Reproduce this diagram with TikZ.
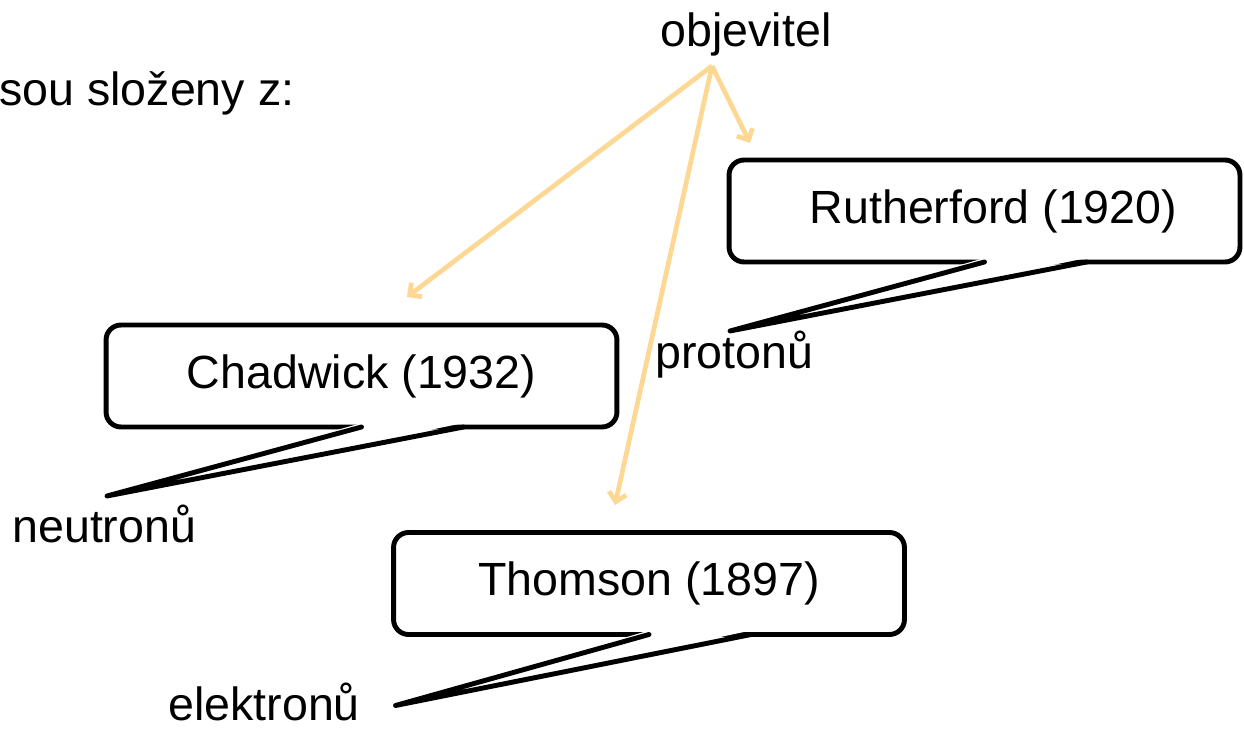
\documentclass[tikz,border=0pt]{standalone}
\usepackage{fontspec}
\setmainfont{Liberation Sans}
\usetikzlibrary{arrows.meta,calc}

\definecolor{objarrow}{RGB}{253,216,148}
\tikzset{
  txt/.style={font=\fontsize{26.5}{32}\selectfont, inner sep=0pt},
  bubble/.style={txt, draw, fill=white, line width=2.8pt, rounded corners=0.3cm,
    minimum width=10.22cm, minimum height=2.04cm, outer sep=0pt},
  tail/.style={line width=2.8pt, line join=round, line cap=round},
  find/.style={objarrow, line width=2.7pt, -{Straight Barb[length=5pt,width=10pt]}}
}

\begin{document}
\begin{tikzpicture}[x=0.02cm, y=-0.02cm]
\useasboundingbox (0,0) rectangle (1244,729);
% texts at the top
\node[txt, anchor=base west] (intro) at (-1,106) {sou složeny z:};
\node[txt, anchor=base] (obj) at (746,47) {objevitel};
% the three bubbles
\node[bubble] (ruth) at (984.5,211) {\hspace*{0.36cm}Rutherford (1920)};
\node[bubble] (chad) at (361.5,376) {Chadwick (1932)};
\node[bubble] (thom) at (649,583.5) {Thomson (1897)};
% particle names
\node[txt, anchor=base west] (prot) at (655,369) {protonů};
\node[txt, anchor=base west] (neut) at (12,542) {neutronů};
\node[txt, anchor=base west] (elek) at (168,720) {elektronů};
% tails of the bubbles
\coordinate (ruthA) at ($(ruth.south west)!0.5!(ruth.south east)$);
\coordinate (ruthB) at ($(ruth.south west)!0.7!(ruth.south east)$);
\coordinate (ruthTip) at ($(ruth.south west)+(1,69)$);
\fill[white] ($(ruthA)+(0,-4)$) -- (ruthTip) -- ($(ruthB)+(0,-4)$) -- cycle;
\draw[tail] (ruthA) -- (ruthTip) -- (ruthB);
\coordinate (chadA) at ($(chad.south west)!0.5!(chad.south east)$);
\coordinate (chadB) at ($(chad.south west)!0.7!(chad.south east)$);
\coordinate (chadTip) at ($(chad.south west)+(1,69)$);
\fill[white] ($(chadA)+(0,-4)$) -- (chadTip) -- ($(chadB)+(0,-4)$) -- cycle;
\draw[tail] (chadA) -- (chadTip) -- (chadB);
\coordinate (thomA) at ($(thom.south west)!0.5!(thom.south east)$);
\coordinate (thomB) at ($(thom.south west)!0.7!(thom.south east)$);
\coordinate (thomTip) at ($(thom.south west)+(2,71)$);
\fill[white] ($(thomA)+(0,-4)$) -- (thomTip) -- ($(thomB)+(0,-4)$) -- cycle;
\draw[tail] (thomA) -- (thomTip) -- (thomB);
% arrows from objevitel
\coordinate (src) at (712,66);
\coordinate (ruthEnd) at (750,143);
\coordinate (chadEnd) at (407,297);
\coordinate (thomEnd) at (615,505);
\draw[find] (src) -- (ruthEnd);
\draw[find] (src) -- (chadEnd);
\draw[find] (src) -- (thomEnd);
\end{tikzpicture}
\end{document}
